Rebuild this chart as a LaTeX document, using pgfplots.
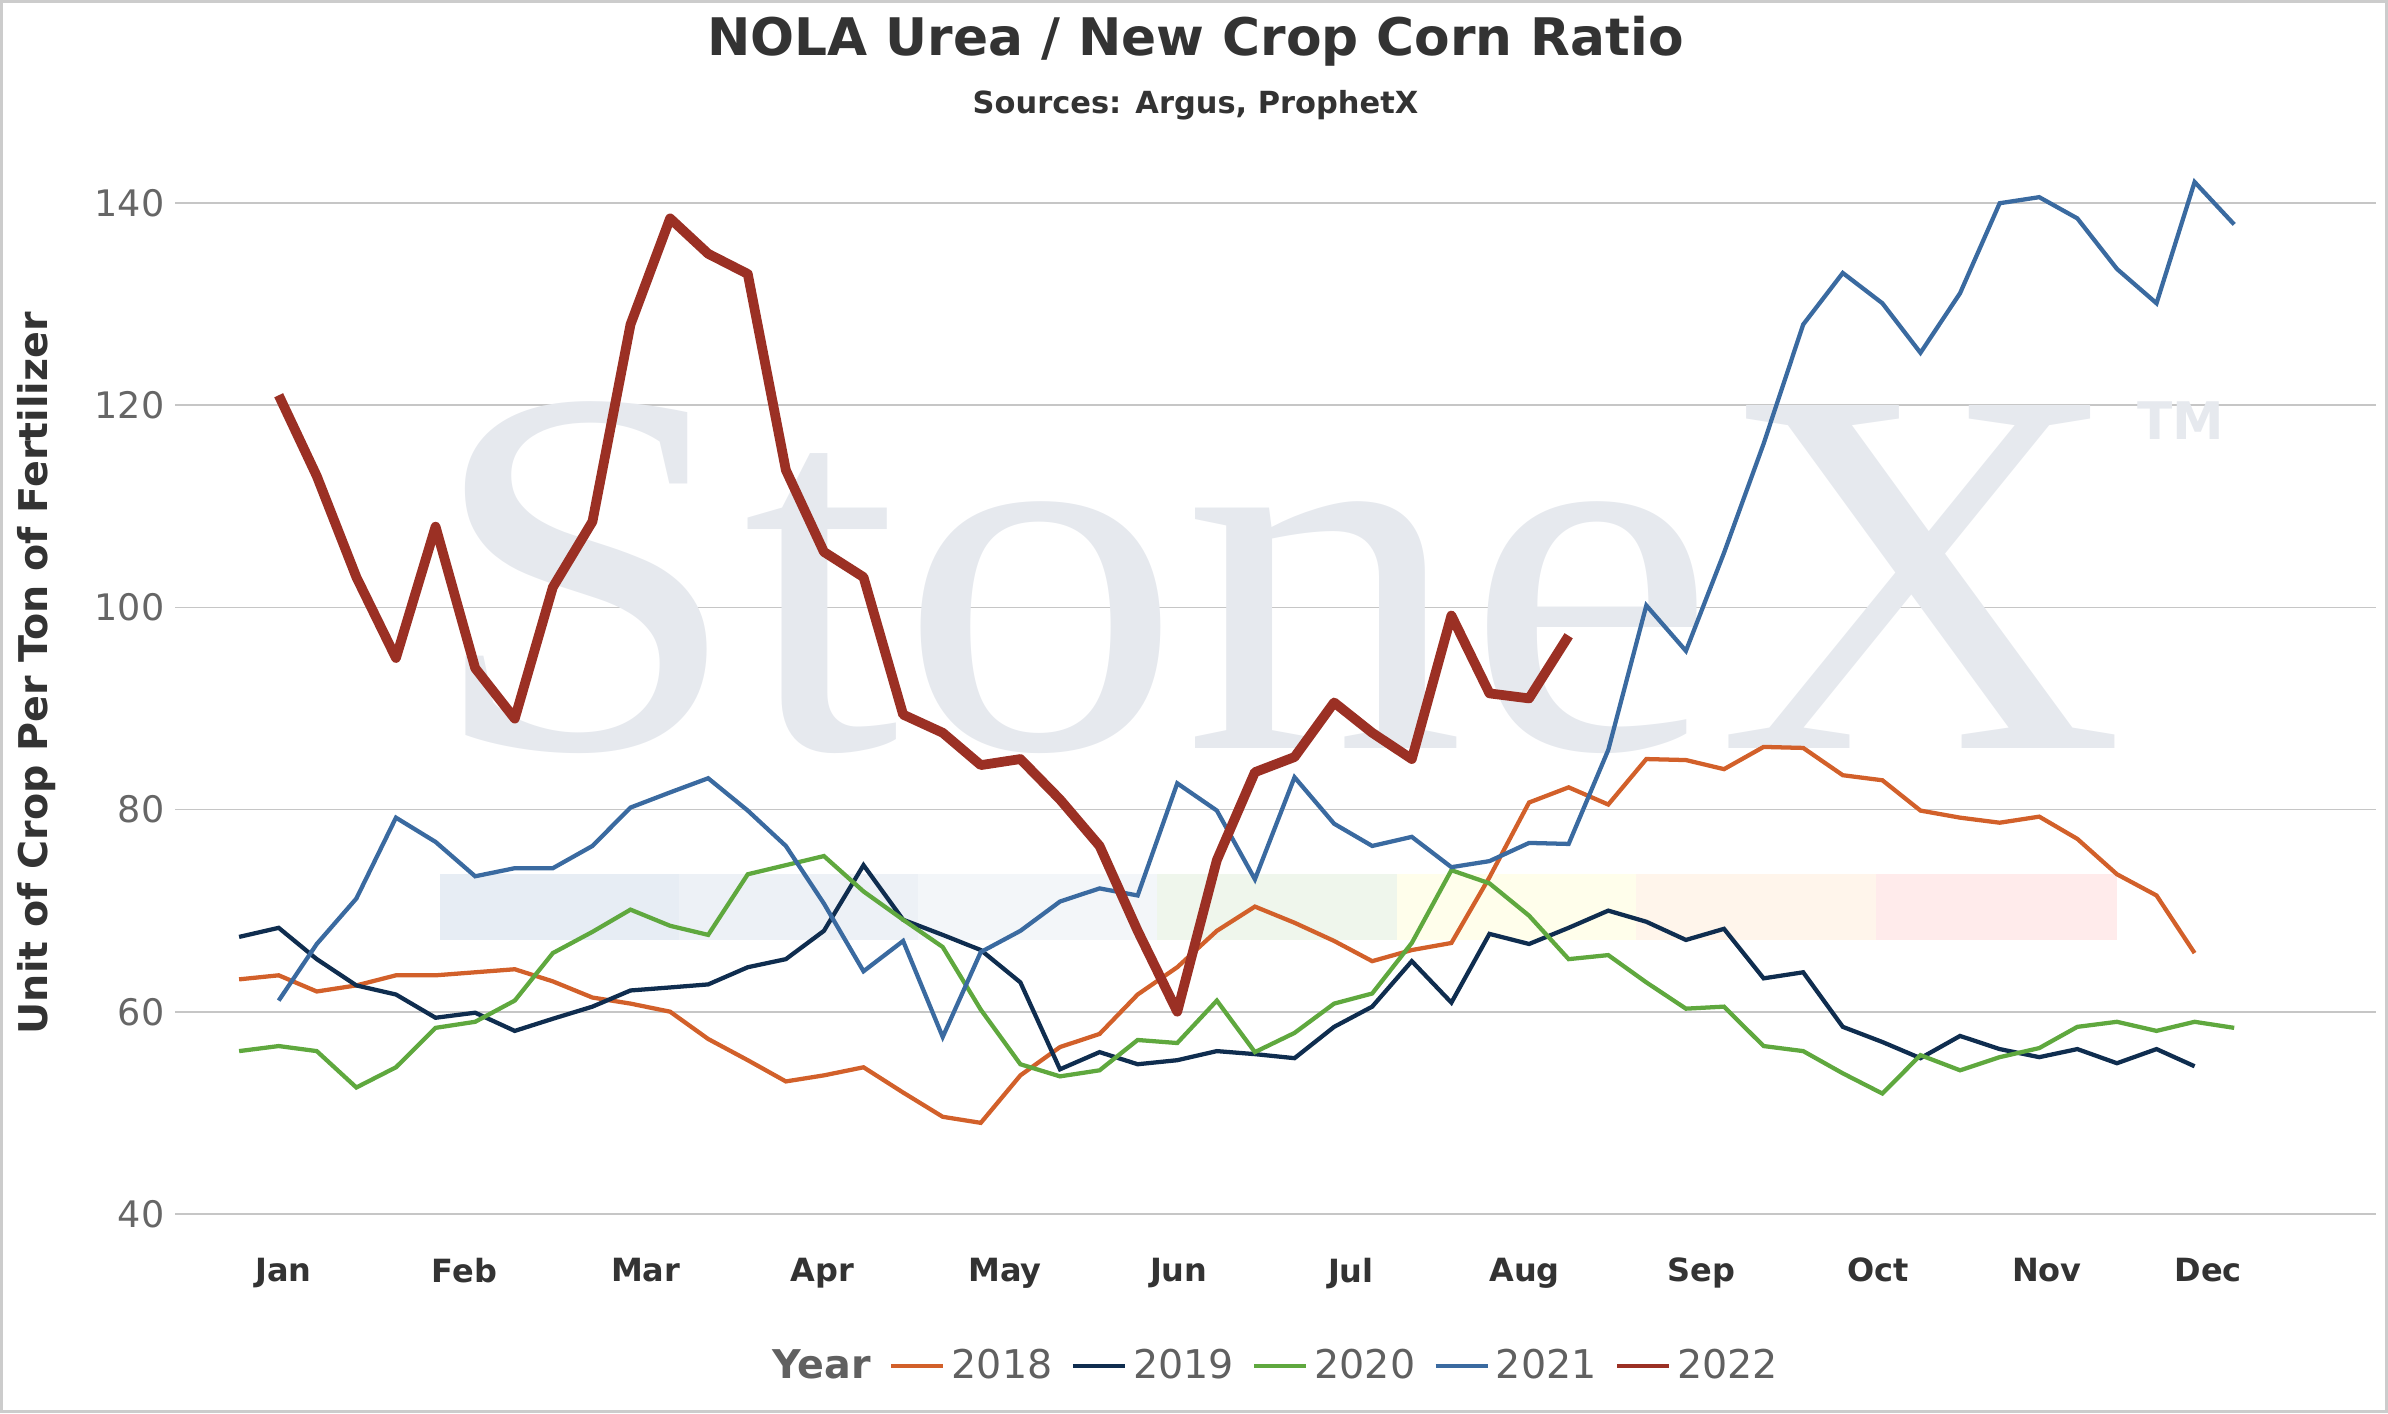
\documentclass[border=0pt]{standalone}
\usepackage{pgfplots}
\pgfplotsset{compat=1.18}
\usepackage{fontspec}
\setmainfont{DejaVu Sans}
\newfontfamily\wmfont{Liberation Serif}
\definecolor{c18}{HTML}{D2602A}
\definecolor{c19}{HTML}{0F2D4F}
\definecolor{c20}{HTML}{5FA83E}
\definecolor{c21}{HTML}{3A6AA0}
\definecolor{c22}{HTML}{9B3024}
\definecolor{txt}{HTML}{333333}
\definecolor{wm}{HTML}{E6E9EE}
\begin{document}
\begin{tikzpicture}
\useasboundingbox (-57.5pt,-65.5pt) rectangle (726.5pt,398.5pt);
\draw[gray!40,line width=1pt] (-57pt,-65pt) rectangle (726pt,398pt);
\node[font=\bfseries\fontsize{17}{20}\selectfont,text=txt] at (335pt,385pt) {NOLA Urea / New Crop Corn Ratio};
\node[font=\bfseries\fontsize{10}{12}\selectfont,text=txt] at (335pt,364pt) {Sources: Argus, ProphetX};
\begin{axis}[at={(0,0)},anchor=south west,scale only axis,width=722.5pt,height=355pt,
 xmin=115,xmax=1560,ymin=40,ymax=147,
 axis line style={draw=none},tick style={draw=none},
 ytick={40,60,...,140},ymajorgrids,grid style={gray!45,line width=0.6pt},
 xtick={186,305,424,540,660,774,887,1001,1117,1233,1344,1450},
 xticklabels={Jan,Feb,Mar,Apr,May,Jun,Jul,Aug,Sep,Oct,Nov,Dec},
 xticklabel style={font=\bfseries\fontsize{10.5}{13}\selectfont,text=txt,yshift=-11pt},
 yticklabel style={font=\fontsize{12}{14}\selectfont,text=gray!80!black},
 /pgf/number format/assume math mode=true,
 ylabel={Unit of Crop Per Ton of Fertilizer},
 ylabel style={font=\bfseries\fontsize{13}{15}\selectfont,text=txt,at={(axis description cs:-0.063,0.5)},anchor=center},
 legend style={at={(0.5,-0.141)},anchor=center,draw=none,legend columns=-1,
   font=\fontsize{13}{15}\selectfont,text=gray!75!black,/tikz/every even column/.append style={column sep=4pt}},
 legend cell align=left,
 clip=false]
\node[text=wm,font=\fontsize{172}{172}\selectfont\wmfont,anchor=center,xscale=1.08] at (axis cs:838,103) {StoneX};
\node[text=wm,font=\bfseries\fontsize{17}{17}\selectfont,anchor=center] at (axis cs:1432,118.5) {TM};
\fill[c21!12] (axis cs:289,67.1) rectangle (axis cs:446,73.6);
\fill[c21!9] (axis cs:446,67.1) rectangle (axis cs:603,73.6);
\fill[c21!6] (axis cs:603,67.1) rectangle (axis cs:760,73.6);
\fill[c20!10] (axis cs:760,67.1) rectangle (axis cs:917,73.6);
\fill[yellow!8] (axis cs:917,67.1) rectangle (axis cs:1074,73.6);
\fill[orange!8] (axis cs:1074,67.1) rectangle (axis cs:1232,73.6);
\fill[red!8] (axis cs:1232,67.1) rectangle (axis cs:1390,73.6);
\addlegendimage{empty legend}\addlegendentry{\textbf{Year}}
\addplot[c18,line width=1.4pt,no marks] coordinates {(157,63.2)(183,63.6)(208,62)(234,62.6)(260,63.6)(286,63.6)(312,63.9)(338,64.2)(363,63)(389,61.4)(414,60.8)(440,60)(465,57.3)(491,55.2)(516,53.1)(541,53.7)(567,54.5)(593,52)(619,49.6)(644,49)(670,53.7)(696,56.5)(722,57.8)(747,61.7)(773,64.4)(799,68)(824,70.4)(850,68.8)(876,67)(901,65)(927,66.1)(953,66.8)(978,73.3)(1004,80.7)(1030,82.2)(1056,80.5)(1081,85)(1107,84.9)(1132,84)(1158,86.2)(1184,86.1)(1210,83.4)(1236,82.9)(1261,79.9)(1287,79.2)(1313,78.7)(1339,79.3)(1364,77.1)(1390,73.6)(1416,71.5)(1441,65.8)};
\addlegendentry{2018}
\addplot[c19,line width=1.4pt,no marks] coordinates {(157,67.4)(183,68.3)(208,65.2)(234,62.6)(260,61.7)(286,59.4)(312,59.9)(338,58.1)(363,59.3)(389,60.5)(414,62.1)(440,62.4)(465,62.7)(491,64.4)(516,65.2)(541,68)(567,74.5)(593,69.1)(619,67.6)(644,66.1)(670,62.9)(696,54.3)(722,56)(747,54.8)(773,55.2)(799,56.1)(824,55.8)(850,55.4)(876,58.5)(901,60.5)(927,65)(953,60.9)(978,67.7)(1004,66.7)(1030,68.3)(1056,70)(1081,68.9)(1107,67.1)(1132,68.2)(1158,63.3)(1184,63.9)(1210,58.5)(1236,57)(1261,55.4)(1287,57.6)(1313,56.3)(1339,55.5)(1364,56.3)(1390,54.9)(1416,56.3)(1441,54.6)};
\addlegendentry{2019}
\addplot[c20,line width=1.4pt,no marks] coordinates {(157,56.1)(183,56.6)(208,56.1)(234,52.5)(260,54.5)(286,58.4)(312,59)(338,61.1)(363,65.8)(389,67.9)(414,70.1)(440,68.5)(465,67.6)(491,73.6)(516,74.5)(541,75.4)(567,71.9)(593,69.1)(619,66.4)(644,60.2)(670,54.8)(696,53.6)(722,54.2)(747,57.2)(773,56.9)(799,61.1)(824,56)(850,57.9)(876,60.8)(901,61.8)(927,66.8)(953,74)(978,72.7)(1004,69.5)(1030,65.2)(1056,65.6)(1081,62.9)(1107,60.3)(1132,60.5)(1158,56.6)(1184,56.1)(1210,53.9)(1236,51.9)(1261,55.7)(1287,54.2)(1313,55.5)(1339,56.4)(1364,58.5)(1390,59)(1416,58.1)(1441,59)(1467,58.4)};
\addlegendentry{2020}
\addplot[c21,line width=1.4pt,no marks] coordinates {(183,61.1)(208,66.7)(234,71.2)(260,79.2)(286,76.8)(312,73.4)(338,74.2)(363,74.2)(389,76.4)(414,80.2)(440,81.7)(465,83.1)(491,79.9)(516,76.4)(541,70.7)(567,64)(593,67)(619,57.5)(644,65.9)(670,68)(696,70.9)(722,72.2)(747,71.5)(773,82.6)(799,79.9)(824,73.1)(850,83.2)(876,78.6)(901,76.4)(927,77.3)(953,74.3)(978,74.9)(1004,76.7)(1030,76.6)(1056,85.9)(1081,100.2)(1107,95.7)(1132,105.4)(1158,116.2)(1184,128)(1210,133.1)(1236,130.1)(1261,125.2)(1287,131.1)(1313,140)(1339,140.6)(1364,138.5)(1390,133.5)(1416,130.1)(1441,142.1)(1467,137.9)};
\addlegendentry{2021}
\addplot[c22,line width=3.2pt,no marks,line join=round,forget plot] coordinates {(183,121)(208,113)(234,103)(260,95)(286,108)(312,94)(338,89)(363,102)(389,108.5)(414,128)(440,138.5)(465,135)(491,133)(516,113.6)(541,105.5)(567,103)(593,89.4)(619,87.6)(644,84.4)(670,85)(696,81)(722,76.4)(747,68)(773,60)(799,75)(824,83.7)(850,85.2)(876,90.6)(901,87.6)(927,85)(953,99.2)(978,91.5)(1004,91)(1030,97.2)};
\addlegendimage{c22,line width=1.4pt}
\addlegendentry{2022}
\end{axis}
\end{tikzpicture}
\end{document}
